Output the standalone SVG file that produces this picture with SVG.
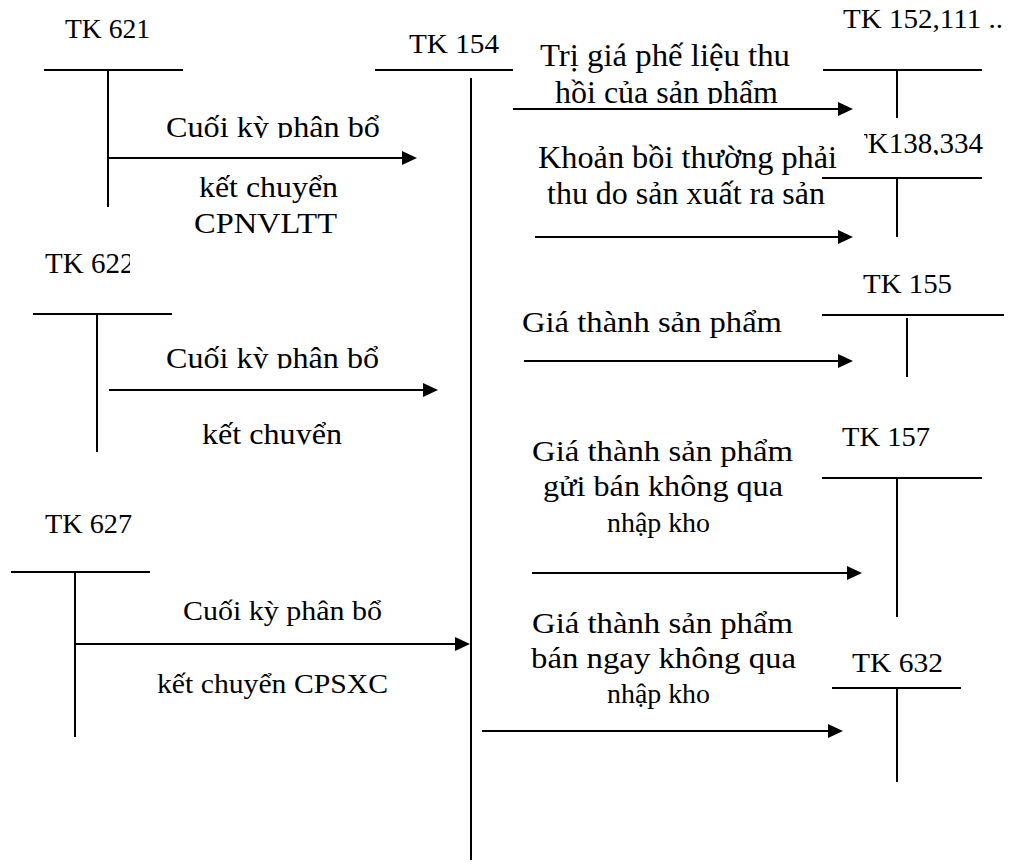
<svg xmlns="http://www.w3.org/2000/svg" width="1019" height="865" viewBox="0 0 1019 865">
<style>
.tk{font-size:28px}
.cap{font-size:29px}
.ln{stroke:#000;stroke-width:2;fill:none}
.ar{stroke:#000;stroke-width:2;fill:none;marker-end:url(#ah)}
</style>
<defs>
<marker id="ah" markerUnits="userSpaceOnUse" markerWidth="15" markerHeight="14" refX="0" refY="7" orient="auto" overflow="visible">
<path d="M0,0 L15,7 L0,14 Z" fill="#000"/>
</marker>
<clipPath id="c1"><rect x="0" y="0" width="520" height="138"/></clipPath>
<clipPath id="c5"><rect x="500" y="70" width="320" height="34"/></clipPath>
<clipPath id="c138"><rect x="864" y="120" width="155" height="35"/></clipPath>
<clipPath id="c622"><rect x="0" y="240" width="130" height="50"/></clipPath>
<clipPath id="c8"><rect x="0" y="330" width="460" height="38.5"/></clipPath>
<clipPath id="c9"><rect x="0" y="400" width="460" height="44.5"/></clipPath>
</defs>
<rect width="1019" height="865" fill="#fff"/>
<g font-family="'Liberation Serif', 'DejaVu Serif', serif" fill="#000">

<g id="tk621">
<text class="tk" x="65" y="38" textLength="85" lengthAdjust="spacingAndGlyphs">TK 621</text>
<line class="ln" x1="44" y1="70" x2="183" y2="70"/>
<line class="ln" x1="108" y1="70" x2="108" y2="207"/>
</g>
<g id="tk154">
<text class="tk" x="409" y="53" textLength="90" lengthAdjust="spacingAndGlyphs">TK 154</text>
<line class="ln" x1="375" y1="70" x2="513" y2="70"/>
<line class="ln" x1="471" y1="78" x2="471" y2="860"/>
</g>
<g id="tk152">
<text class="tk" x="843" y="28" textLength="160" lengthAdjust="spacingAndGlyphs">TK 152,111 ..</text>
<line class="ln" x1="823" y1="70" x2="982" y2="70"/>
<line class="ln" x1="897" y1="70" x2="897" y2="118"/>
</g>
<g id="tk138">
<text class="tk" x="983" y="153" text-anchor="end" style="font-size:29px" clip-path="url(#c138)">TK138,334</text>
<line class="ln" x1="822" y1="178" x2="982" y2="178"/>
<line class="ln" x1="897" y1="178" x2="897" y2="237"/>
</g>
<g id="tk622">
<text class="tk" x="45" y="273" style="font-size:29px" clip-path="url(#c622)">TK 622</text>
<line class="ln" x1="33" y1="314" x2="172" y2="314"/>
<line class="ln" x1="97" y1="314" x2="97" y2="452"/>
</g>
<g id="tk155">
<text class="tk" x="863" y="293" textLength="89" lengthAdjust="spacingAndGlyphs">TK 155</text>
<line class="ln" x1="822" y1="315" x2="1004" y2="315"/>
<line class="ln" x1="907" y1="318" x2="907" y2="377"/>
</g>
<g id="tk157">
<text class="tk" x="842" y="446" textLength="88" lengthAdjust="spacingAndGlyphs">TK 157</text>
<line class="ln" x1="822" y1="478" x2="982" y2="478"/>
<line class="ln" x1="897" y1="478" x2="897" y2="617"/>
</g>
<g id="tk627">
<text class="tk" x="45" y="533" textLength="87" lengthAdjust="spacingAndGlyphs">TK 627</text>
<line class="ln" x1="11" y1="572" x2="150" y2="572"/>
<line class="ln" x1="75" y1="572" x2="75" y2="737"/>
</g>
<g id="tk632">
<text class="tk" x="852" y="672" textLength="91" lengthAdjust="spacingAndGlyphs">TK 632</text>
<line class="ln" x1="832" y1="688" x2="961" y2="688"/>
<line class="ln" x1="897" y1="688" x2="897" y2="782"/>
</g>

<g id="connectors">
<line class="ar" x1="108" y1="158" x2="402" y2="158"/>
<line class="ar" x1="513" y1="109" x2="838" y2="109"/>
<line class="ar" x1="535" y1="237" x2="838" y2="237"/>
<line class="ar" x1="109" y1="390" x2="423" y2="390"/>
<line class="ar" x1="524" y1="361" x2="838" y2="361"/>
<line class="ar" x1="532" y1="573" x2="847" y2="573"/>
<line class="ar" x1="75" y1="644" x2="455" y2="644"/>
<line class="ar" x1="482" y1="731" x2="828" y2="731"/>
</g>

<g id="labels">
<text class="cap" x="166" y="137" textLength="214" lengthAdjust="spacingAndGlyphs" clip-path="url(#c1)">Cuối kỳ phân bổ</text>
<text class="cap" x="199" y="197" textLength="139" lengthAdjust="spacingAndGlyphs">kết chuyển</text>
<text class="cap" x="194" y="233" textLength="143" lengthAdjust="spacingAndGlyphs">CPNVLTT</text>
<text class="cap" style="font-size:31px" x="540" y="66" textLength="250" lengthAdjust="spacingAndGlyphs">Trị giá phế liệu thu</text>
<text class="cap" style="font-size:31px" x="555" y="103" textLength="223" lengthAdjust="spacingAndGlyphs" clip-path="url(#c5)">hồi của sản phẩm</text>
<text class="cap" style="font-size:31px" x="538" y="168" textLength="299" lengthAdjust="spacingAndGlyphs">Khoản bồi thường phải</text>
<text class="cap" style="font-size:31px" x="547" y="204" textLength="278" lengthAdjust="spacingAndGlyphs">thu do sản xuất ra sản</text>
<text class="cap" x="166" y="368" textLength="213" lengthAdjust="spacingAndGlyphs" clip-path="url(#c8)">Cuối kỳ phân bổ</text>
<text class="cap" x="202" y="444" textLength="140" lengthAdjust="spacingAndGlyphs" clip-path="url(#c9)">kết chuyển</text>
<text class="cap" style="font-size:30px" x="522" y="332" textLength="260" lengthAdjust="spacingAndGlyphs">Giá thành sản phẩm</text>
<text class="cap" style="font-size:30px" x="532" y="461" textLength="261" lengthAdjust="spacingAndGlyphs">Giá thành sản phẩm</text>
<text class="cap" style="font-size:30px" x="543" y="496" textLength="240" lengthAdjust="spacingAndGlyphs">gửi bán không qua</text>
<text class="cap" style="font-size:27px" x="607" y="532" textLength="103" lengthAdjust="spacingAndGlyphs">nhập kho</text>
<text class="cap" style="font-size:27px" x="183" y="620" textLength="199" lengthAdjust="spacingAndGlyphs">Cuối kỳ phân bổ</text>
<text class="cap" style="font-size:27px" x="157" y="693" textLength="231" lengthAdjust="spacingAndGlyphs">kết chuyển CPSXC</text>
<text class="cap" style="font-size:30px" x="532" y="633" textLength="261" lengthAdjust="spacingAndGlyphs">Giá thành sản phẩm</text>
<text class="cap" style="font-size:30px" x="531" y="668" textLength="265" lengthAdjust="spacingAndGlyphs">bán ngay không qua</text>
<text class="cap" style="font-size:27px" x="607" y="703" textLength="103" lengthAdjust="spacingAndGlyphs">nhập kho</text>
</g>
</g>
</svg>
